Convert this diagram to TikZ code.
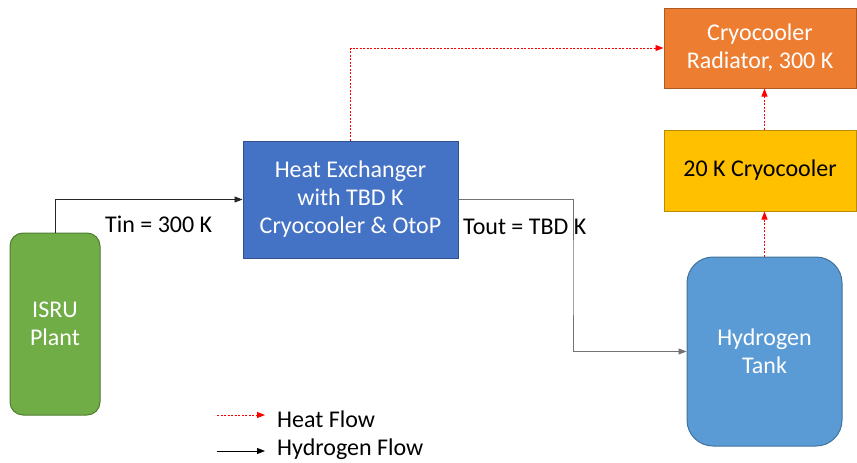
\documentclass[tikz,border=0pt]{standalone}
\usepackage{fontspec}
\setmainfont{Carlito}
\usetikzlibrary{arrows.meta,positioning}
\definecolor{plantgreen}{HTML}{70AD47}
\definecolor{plantedge}{HTML}{507E32}
\definecolor{hxblue}{HTML}{4472C4}
\definecolor{hxedge}{HTML}{2F528F}
\definecolor{radorange}{HTML}{ED7D31}
\definecolor{radedge}{HTML}{AE5A21}
\definecolor{cryogold}{HTML}{FFC000}
\definecolor{cryoedge}{HTML}{BC8C00}
\definecolor{tankblue}{HTML}{5B9BD5}
\definecolor{tankedge}{HTML}{41719C}

\begin{document}
\begin{tikzpicture}[
  x=1pt,y=-1pt,
  blk/.style={draw,line width=1pt,align=center,inner sep=0pt,
    font=\fontsize{24}{28}\selectfont},
  lbl/.style={inner sep=0pt,font=\fontsize{24}{28}\selectfont},
  h2/.style={-{Triangle[length=8pt,width=6pt]},line width=0.9pt},
  heat/.style={-{Triangle[length=8pt,width=6pt]},red,line width=0.9pt,
    dash pattern=on 2pt off 1.5pt}
]
\useasboundingbox (0,0) rectangle (857,463);

\node[blk,fill=plantgreen,draw=plantedge,text=white,rounded corners=13pt,
  minimum width=90pt,minimum height=182pt] (isru) at (55,324) {ISRU\\Plant};
\node[blk,fill=hxblue,draw=hxedge,text=white,
  minimum width=215pt,minimum height=117pt] (hx) at (350.5,199.5)
  {Heat Exchanger\\with TBD K\\Cryocooler \& OtoP};
\node[blk,fill=radorange,draw=radedge,text=white,
  minimum width=192pt,minimum height=80pt] (rad) at (760,48)
  {Cryocooler\\Radiator, 300 K};
\node[blk,fill=cryogold,draw=cryoedge,text=black,
  minimum width=192pt,minimum height=81pt] (cryo) at (760,170.5)
  {20 K Cryocooler};
\node[blk,fill=tankblue,draw=tankedge,text=white,rounded corners=26pt,
  minimum width=155pt,minimum height=189pt] (tank) at (764.5,351.5)
  {Hydrogen\\Tank};

% hydrogen flow
\draw[h2,black!85] (isru.north) |- (hx.west);
\node[lbl,anchor=west] (tin) at (105,224) {Tin = 300 K};
\coordinate (bend) at (573,280);
\draw[h2,black!55] (hx.east) -| (bend) |- (tank.west);
\node[lbl,anchor=west] (tout) at (463,227) {Tout = TBD K};

% heat flow
\draw[heat] (hx.north) |- (rad.west);
\draw[heat] (tank.north) -- (tank.north |- cryo.south);
\draw[heat] (cryo.north -| tank.north) -- (tank.north |- rad.south);

% legend
\coordinate (hfa) at (217,415);
\coordinate (hfb) at (265,415);
\coordinate (h2a) at (217,451);
\coordinate (h2b) at (265,451);
\draw[heat] (hfa) -- (hfb);
\draw[h2] (h2a) -- (h2b);
\node[lbl,anchor=west] (hflbl) at (277,419) {Heat Flow};
\node[lbl,anchor=west] (h2lbl) at (277,449) {Hydrogen Flow};
\end{tikzpicture}
\end{document}
